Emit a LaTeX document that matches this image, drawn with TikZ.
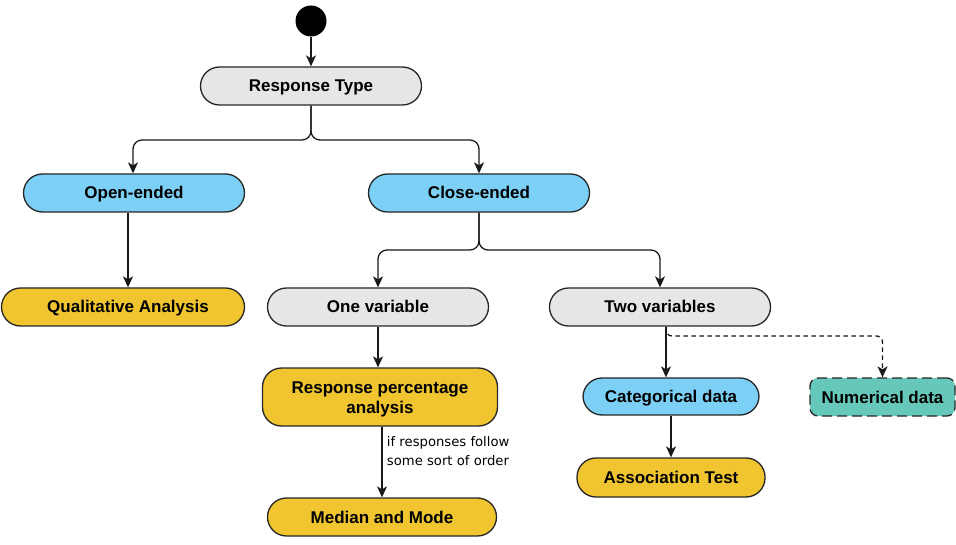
\documentclass[tikz,border=0pt]{standalone}
\usepackage{fontspec}
\setmainfont{Liberation Sans}
\newfontfamily\labelfont{DejaVu Sans}
\usetikzlibrary{arrows.meta}
\definecolor{cgray}{HTML}{E6E6E6}
\definecolor{cblue}{HTML}{7DD0F5}
\definecolor{cyellow}{HTML}{F0C530}
\definecolor{cteal}{HTML}{66C8BA}
\tikzset{
  pill/.style={draw=black!85, line width=1.3pt, rounded corners=19pt, minimum height=38pt,
    inner sep=2pt, align=center, text height=12pt, text depth=0pt,
    font=\fontsize{17}{20}\selectfont\bfseries},
  graybox/.style={pill, fill=cgray, minimum width=221pt},
  bluebox/.style={pill, fill=cblue},
  yellowbox/.style={pill, fill=cyellow},
  conn/.style={line width=1.3pt, draw=black!90, -{Stealth[length=11pt,width=10pt,inset=3pt]}},
  branch/.style={conn, rounded corners=9pt},
}
\begin{document}
\begin{tikzpicture}[x=1pt,y=-1pt]
\useasboundingbox (0,0) rectangle (956,545);
\node[circle, fill=black, minimum size=31pt, inner sep=0pt] (start) at (311,21) {};
\node[graybox] (resp) at (311,86) {Response Type};
\node[bluebox, minimum width=221pt] (open) at (134,193) {Open-ended};
\node[bluebox, minimum width=221pt] (close) at (479,193) {Close-ended};
\node[yellowbox, minimum width=243pt] (qual) at (123,307) {\hspace*{10pt}Qualitative Analysis};
\node[graybox] (one) at (378,307) {One variable};
\node[graybox] (two) at (660,307) {Two variables};
\node[yellowbox, minimum width=235pt, minimum height=58pt, text height=32pt, text depth=0pt] (rpa) at (380,397) {Response percentage\\analysis};
\node[yellowbox, minimum width=229pt] (med) at (382,517) {Median and Mode};
\node[bluebox, minimum width=176pt, minimum height=37pt] (cat) at (671,396.5) {Categorical data};
\node[yellowbox, minimum width=188pt, minimum height=39pt] (assoc) at (671,477.5) {Association Test};
\node[pill, fill=cteal, dashed, dash pattern=on 10pt off 5pt, rounded corners=8pt,
  minimum width=145pt] (num) at (882.5,397) {Numerical data};

\coordinate (qa) at (128,0);
\coordinate (ca) at (666,0);
\draw[conn] (start) -- (resp);
\draw[branch] (resp.south) |- (200,140) -| (open.north -| 133,0);
\draw[branch] (resp.south) |- (400,140) -| (close.north);
\draw[conn] (open.south -| qa) -- (qual.north -| qa);
\draw[branch] (close.south) |- (420,250) -| (one.north);
\draw[branch] (close.south) |- (560,250) -| (two.north);
\draw[conn] (one.south) -- (one.south |- rpa.north);
\draw[conn] (rpa.south -| med.north) -- (med.north)
  node[pos=0.34, right=1pt, align=left, font=\labelfont\fontsize{13.2}{19}\selectfont] (lbl) {if responses follow\\some sort of order};
\draw[conn] (two.south -| ca) -- (cat.north -| ca);
\draw[conn, dashed, dash pattern=on 4.5pt off 3.5pt, rounded corners=6pt] (two.south -| ca) |- (760,336) -| (num.north);
\draw[conn] (cat.south) -- (assoc.north);
\end{tikzpicture}
\end{document}
